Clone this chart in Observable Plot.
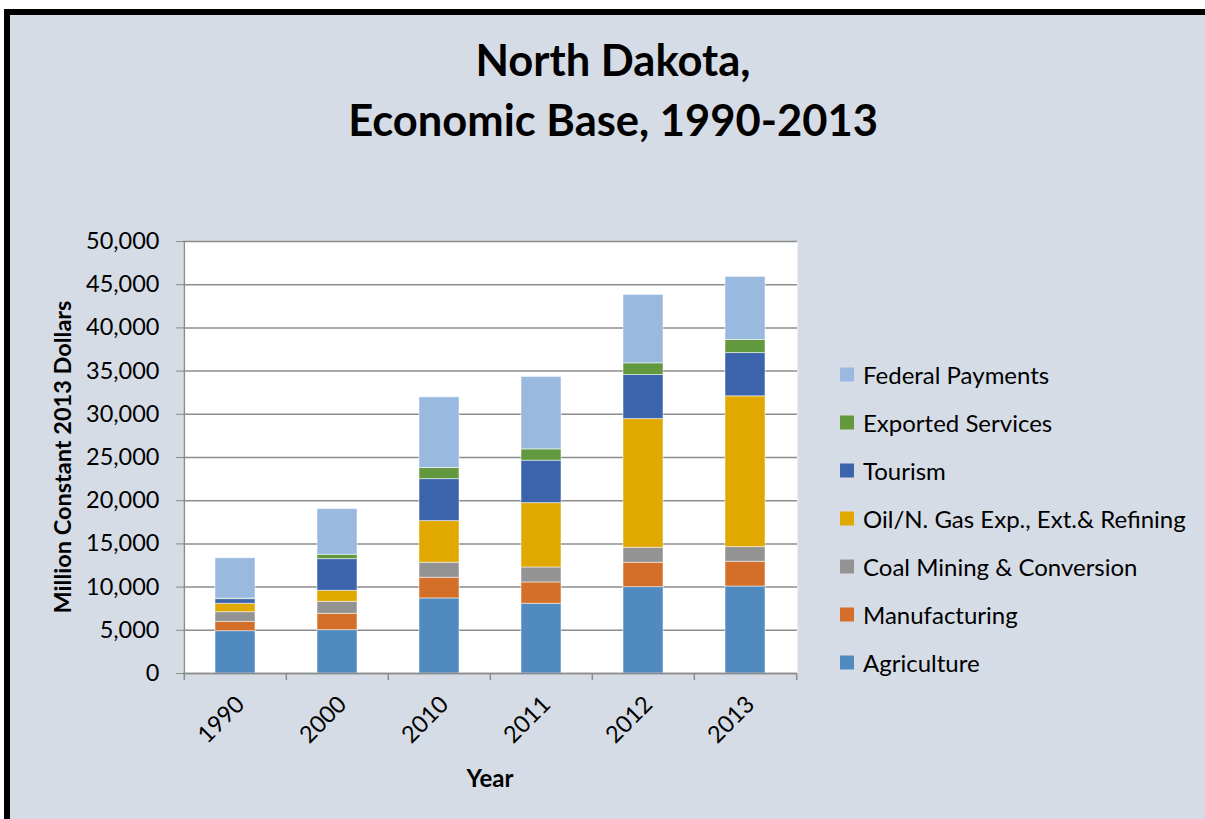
<!DOCTYPE html>
<html>
<head>
<meta charset="utf-8">
<script src="https://cdn.jsdelivr.net/npm/d3@7"></script>
<script src="https://cdn.jsdelivr.net/npm/@observablehq/plot@0.6"></script>
<style>
  html, body { margin: 0; padding: 0; background: #ffffff; }
  body { width: 1205px; height: 819px; position: relative; overflow: hidden; font-family: Lato, "Open Sans", sans-serif; }
  #panel { position: absolute; left: 4px; top: 9px; width: 1205px; height: 820px; background: #D6DCE5;
           border-left: 6px solid #000; border-top: 6px solid #000; box-sizing: border-box; }
  #chart { position: absolute; left: 0; top: 0; }
  .title { position: absolute; left: 613px; transform: translateX(-50%); font-weight: bold; font-size: 43.5px; white-space: nowrap; color: #000; }
  #ylabel { position: absolute; left: 62px; top: 457px; transform: translate(-50%, -50%) rotate(-90deg); font-weight: bold; font-size: 23.5px; white-space: nowrap; }
  #xlabel { position: absolute; left: 490px; top: 777px; transform: translate(-50%, -50%); font-weight: bold; font-size: 24px; }
  #legend { position: absolute; left: 840px; top: 0; }
  .item { position: absolute; left: 0; white-space: nowrap; font-size: 24px; display: flex; align-items: center; transform: translateY(-50%); }
  .sw { width: 14px; height: 14px; margin-right: 9px; }
</style>
</head>
<body>
<div id="panel"></div>
<div class="title" style="top:33px">North Dakota,</div>
<div class="title" style="top:93px">Economic Base, 1990-2013</div>
<div id="chart"></div>
<div id="ylabel">Million Constant 2013 Dollars</div>
<div id="xlabel">Year</div>
<div id="legend"></div>
<script>
const years = ["1990", "2000", "2010", "2011", "2012", "2013"];
const seriesNames = ["Agriculture", "Manufacturing", "Coal Mining & Conversion", "Oil/N. Gas Exp., Ext.& Refining", "Tourism", "Exported Services", "Federal Payments"];
const seriesColors = ["#508ABE", "#D46F2A", "#939393", "#E1A900", "#3C64AD", "#62993E", "#99B9DF"];

const agriculture   = [4900, 5020, 8690, 8070, 10000, 10070];
const manufacturing = [1080, 1890, 2390, 2470, 2820, 2860];
const coal          = [1120, 1390, 1740, 1730, 1730, 1700];
const oilGas        = [970, 1270, 4820, 7450, 14900, 17450];
const tourism       = [540, 3670, 4860, 4910, 5100, 5010];
const exported      = [60, 500, 1280, 1310, 1350, 1510];
const federal       = [4670, 5290, 8180, 8380, 7910, 7300];

const yTicks = [0, 5000, 10000, 15000, 20000, 25000, 30000, 35000, 40000, 45000, 50000];

const seriesValues = [agriculture, manufacturing, coal, oilGas, tourism, exported, federal];
const data = [];
seriesNames.forEach((s, i) => years.forEach((y, j) => data.push({year: y, series: s, value: seriesValues[i][j]})));

const W = 1205, H = 819;
const mL = 183, mR = 408, mT = 241, mB = 146;
const step = (W - mL - mR) / years.length;
const tickData = 7 * 50000 / (H - mT - mB);
const grey = "#8C8C8C";

const chart = Plot.plot({
  width: W, height: H,
  marginLeft: mL, marginRight: mR, marginTop: mT, marginBottom: mB,
  style: {background: "transparent", fontFamily: "Lato, 'Open Sans', sans-serif", fontSize: "23.5px", color: "#000", overflow: "visible"},
  x: {domain: years, paddingInner: 0.61, paddingOuter: 0.305, label: null},
  y: {domain: [0, 50000], label: null},
  color: {domain: seriesNames, range: seriesColors},
  marks: [
    Plot.frame({fill: "white", stroke: null}),
    Plot.gridY(yTicks, {stroke: grey, strokeOpacity: 1, strokeWidth: 1.5}),
    Plot.barY(data, {x: "year", y: "value", fill: "series", order: seriesNames, stroke: "white", strokeOpacity: 0.5, strokeWidth: 1}),
    Plot.ruleY([0], {stroke: grey, strokeWidth: 1.5}),
    Plot.ruleX([years[0]], {dx: -step / 2, y1: 0, y2: 50000, stroke: grey, strokeWidth: 1.5}),
    Plot.ruleX(years, {dx: -step / 2, y1: 0, y2: -tickData, stroke: grey, strokeWidth: 1.5}),
    Plot.ruleX([years[years.length - 1]], {dx: step / 2, y1: 0, y2: -tickData, stroke: grey, strokeWidth: 1.5}),
    Plot.axisY({ticks: yTicks, tickFormat: d3.format(","), tickSize: 7, tickPadding: 17, stroke: grey, strokeOpacity: 1, label: null}),
    Plot.axisX({tickSize: 0, tickRotate: -45, tickPadding: 27, dx: 5, label: null})
  ]
});
document.getElementById("chart").appendChild(chart);

const legend = document.getElementById("legend");
const legendTop = 374, legendGap = 48;
seriesNames.slice().reverse().forEach((s, k) => {
  const i = seriesNames.indexOf(s);
  const item = document.createElement("div");
  item.className = "item";
  item.style.top = (legendTop + k * legendGap) + "px";
  const sw = document.createElement("span");
  sw.className = "sw";
  sw.style.background = seriesColors[i];
  const t = document.createElement("span");
  t.textContent = s;
  item.appendChild(sw);
  item.appendChild(t);
  legend.appendChild(item);
});
</script>
</body>
</html>
